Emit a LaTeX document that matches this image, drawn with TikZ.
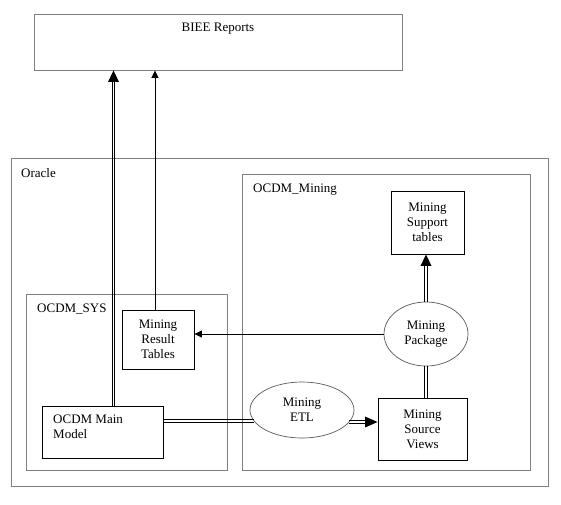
\documentclass[tikz,border=0pt]{standalone}
\usepackage{fontspec}
\setmainfont{Liberation Serif}
\usetikzlibrary{shapes.geometric,arrows.meta,calc}
\definecolor{framegray}{RGB}{128,128,128}
\definecolor{ovalgray}{RGB}{90,90,90}
% double connectors drawn as two parallel rules
\newcommand\dblvline[2]{%
  \draw[dline] ($(#1)+(-1.1,0)$) -- ($(#2)+(-1.1,0)$);
  \draw[dline] ($(#1)+(1.1,0)$) -- ($(#2)+(1.1,0)$);}
\newcommand\dblhline[2]{%
  \draw[dline] ($(#1)+(0,-1.1)$) -- ($(#2)+(0,-1.1)$);
  \draw[dline] ($(#1)+(0,1.1)$) -- ($(#2)+(0,1.1)$);}
\newcommand\uptip[1]{\fill[black] (#1) -- ++(-5.5,11.5) -- ++(11,0) -- cycle;}
\newcommand\righttip[1]{\fill[black] (#1) -- ++(-12.5,-5.5) -- ++(0,11) -- cycle;}
\begin{document}
\begin{tikzpicture}[x=1pt,y=-1pt,
  font=\fontsize{13}{15}\selectfont,
  container/.style={draw=framegray, line width=0.9pt, inner sep=0pt},
  box/.style={draw=black, line width=0.9pt, inner sep=0pt, align=center},
  oval/.style={ellipse, draw=ovalgray, line width=0.7pt, inner sep=0pt, align=center},
  txt/.style={inner sep=0pt},
  dline/.style={draw=black, line width=0.9pt},
  sglarrow/.style={draw=black, line width=0.8pt, -{Triangle[length=7.5pt, width=7pt]}}]
\useasboundingbox (0,0) rectangle (561,504);
\fill[white] (0,0) rectangle (561,504);

% containers
\node[container, minimum width=368pt, minimum height=56pt] (biee) at (218,42) {};
\node[txt, anchor=base] (bieetxt) at (218,31) {BIEE Reports};
\node[container, minimum width=537pt, minimum height=328pt] (oracle) at (279.5,322) {};
\node[txt, anchor=base west] (oracletxt) at (21,177) {Oracle};
\node[container, minimum width=288pt, minimum height=296pt] (mining) at (386,322) {};
\node[txt, anchor=base west] (miningtxt) at (253,192) {OCDM\_Mining};
\node[container, minimum width=201pt, minimum height=176pt] (sys) at (126.5,382) {};
\node[txt, anchor=base west] (systxt) at (37,312) {OCDM\_SYS};

% nodes
\node[box, minimum width=72pt, minimum height=59pt] (result) at (158,339.5) {Mining\\Result\\Tables};
\node[box, minimum width=121pt, minimum height=52pt] (main) at (102.5,432) {};
\node[txt, anchor=north west, align=left] (maintxt) at (53,415) {OCDM Main\\Model};
\node[box, minimum width=73pt, minimum height=63pt] (support) at (427.5,222.5) {Mining\\Support\\tables};
\node[box, minimum width=89pt, minimum height=62pt] (source) at (422.5,429) {Mining\\Source\\Views};
\node[oval, minimum width=104pt, minimum height=56pt] (etl) at (302,410) {Mining\\ETL};
\node[oval, minimum width=84pt, minimum height=64pt] (pkg) at (426,334) {Mining\\Package};

% single connectors
\coordinate (xsgl) at (155,0);
\draw[sglarrow] (result.north -| xsgl) -- (biee.south -| xsgl);
\draw[sglarrow] (pkg.west) -- (result.east |- pkg.west);

% double connectors
\coordinate (xdbl) at (113.5,0);
\coordinate (mainup) at (main.north -| xdbl);
\coordinate (bieein) at (biee.south -| xdbl);
\dblvline{mainup}{$(bieein)+(0,10)$}
\uptip{bieein}

\coordinate (supin) at (support.south -| pkg.north);
\dblvline{pkg.north}{$(supin)+(0,10)$}
\uptip{supin}

\coordinate (srcup) at (source.north -| pkg.south);
\dblvline{srcup}{pkg.south}

\path (etl.center) ++(-48,11) coordinate (etlin);
\coordinate (mainout) at (main.east |- etlin);
\dblhline{mainout}{etlin}

\path (etl.center) ++(47,12) coordinate (etlout);
\coordinate (srcin) at (source.west |- etlout);
\dblhline{etlout}{$(srcin)+(-11,0)$}
\righttip{srcin}
\end{tikzpicture}
\end{document}
